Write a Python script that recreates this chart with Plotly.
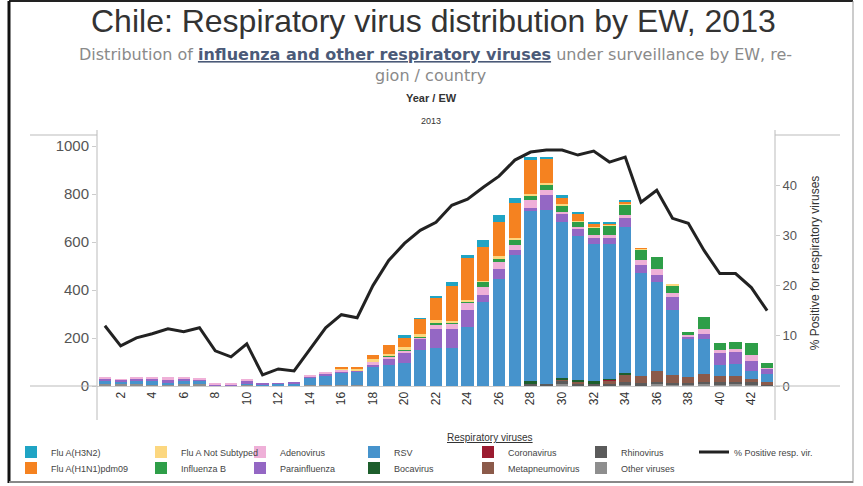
import plotly.graph_objects as go

# ---------------- data ----------------
weeks = list(range(1, 44))
tick_weeks = list(range(2, 43, 2))
tick_labels = [str(w) for w in tick_weeks]

other_viruses = [10, 10, 8, 6, 6, 8, 8, 3, 3, 6, 4, 4, 4, 6, 5, 5, 4, 0, 2, 0, 0, 0, 0, 0, 0, 0, 0, 0, 0,
                 10, 4, 3, 4, 5, 4, 8, 6, 5, 8, 8, 8, 7, 3]
rhinovirus = [0] * 27 + [10, 8, 13, 8, 6, 6, 10, 8, 10, 8, 6, 10, 8, 9, 8, 5]
metapneumovirus = [0] * 29 + [5, 4, 3, 14, 34, 28, 45, 32, 28, 32, 25, 25, 14, 8]
coronavirus = [0] * 32 + [2] + [0] * 10
bocavirus = [0] * 27 + [10, 0, 5, 10, 8, 4, 5, 0, 0, 0, 0, 0, 0, 0, 0, 0]
rsv = [12, 10, 16, 14, 8, 14, 14, 0, 0, 4, 3, 5, 8, 28, 40, 50, 56, 82, 84, 96, 150, 158, 158, 245, 350,
       445, 545, 708, 727, 650, 600, 570, 560, 610, 430, 370, 270, 160, 147, 45, 50, 35, 35]
parainfluenza = [8, 5, 8, 10, 12, 8, 6, 4, 3, 10, 3, 3, 4, 5, 5, 6, 3, 5, 30, 44, 48, 80, 80, 70, 28,
                 42, 22, 15, 60, 33, 28, 28, 26, 35, 35, 30, 55, 6, 20, 50, 48, 42, 20]
adenovirus = [6, 3, 4, 6, 10, 6, 6, 5, 4, 10, 0, 0, 0, 3, 8, 6, 2, 14, 8, 6, 6, 20, 22, 32, 35,
              28, 22, 30, 20, 10, 10, 12, 12, 14, 20, 26, 18, 8, 20, 15, 15, 25, 5]
influenza_b = [0] * 18 + [3, 6, 2, 3, 3, 4, 21, 16, 20, 22, 25, 25, 20, 30, 40, 45, 45, 48, 28, 12, 50,
                          28, 28, 48, 20]
flu_a_not_subtyped = [0] * 15 + [4, 6, 10, 6, 12, 10, 16, 6, 8, 5, 12, 6, 5, 5, 6, 5, 5, 4, 4, 3, 0, 4,
                                 0, 0, 0, 0, 0, 0]
flu_a_h1n1pdm09 = [0] * 15 + [8, 8, 18, 38, 34, 64, 90, 148, 175, 142, 140, 148, 140, 100, 25, 30, 8, 5,
                              5, 2, 0, 0, 0, 0, 0, 0, 0, 0]
flu_a_h3n2 = [0] * 19 + [14, 3, 4, 16, 12, 27, 29, 20, 14, 9, 14, 6, 10, 6, 8, 0, 0, 0, 0, 0, 0, 0, 0, 0]
pct_positive = [12, 8, 9.6, 10.4, 11.4, 10.8, 11.6, 7, 5.8, 8.4, 2.2, 3.4, 3, 7.4, 11.6, 14.2, 13.6, 20,
                25, 28.4, 31, 32.6, 36, 37.2, 39.6, 41.8, 45, 46.6, 47, 47, 46, 46.8, 44.6, 45.6, 36.6,
                39, 33.4, 32.4, 27, 22.4, 22.4, 19.6, 15]

y_ticks = [0, 200, 400, 600, 800, 1000]
y2_ticks = [0, 10, 20, 30, 40]

# stacking order: bottom -> top
series = [
    ("Other viruses", other_viruses, "#8e8e8e"),
    ("Rhinovirus", rhinovirus, "#5b5b5b"),
    ("Metapneumovirus", metapneumovirus, "#8b5a4a"),
    ("Coronavirus", coronavirus, "#9b1b30"),
    ("Bocavirus", bocavirus, "#1d5e2c"),
    ("RSV", rsv, "#4693cc"),
    ("Parainfluenza", parainfluenza, "#9467c4"),
    ("Adenovirus", adenovirus, "#efb0d8"),
    ("Influenza B", influenza_b, "#2e9e48"),
    ("Flu A Not Subtyped", flu_a_not_subtyped, "#fcd77f"),
    ("Flu A(H1N1)pdm09", flu_a_h1n1pdm09, "#f58220"),
    ("Flu A(H3N2)", flu_a_h3n2, "#20a4c4"),
]

# legend grid (column, row) as in the original
legend_slots = {
    "Flu A(H3N2)": (0, 0), "Flu A(H1N1)pdm09": (0, 1),
    "Flu A Not Subtyped": (1, 0), "Influenza B": (1, 1),
    "Adenovirus": (2, 0), "Parainfluenza": (2, 1),
    "RSV": (3, 0), "Bocavirus": (3, 1),
    "Coronavirus": (4, 0), "Metapneumovirus": (4, 1),
    "Rhinovirus": (5, 0), "Other viruses": (5, 1),
    "% Positive resp. vir.": (6, 0),
}

# ---------------- geometry (pixels) ----------------
W, H = 863, 486
PL, PR, PT, PB = 97, 775, 140, 386
pw, ph = PR - PL, PB - PT


def px(x):
    return (x - PL) / pw


def py(y):
    return (PB - y) / ph


col_px = [34, 164, 263, 377, 491, 604, 717]
row_px = [452, 468]

fig = go.Figure()
legend_layouts = {}
order = [s[0] for s in series] + ["% Positive resp. vir."]
legend_ids = {}
for i, name in enumerate(order):
    lid = "legend" if i == 0 else f"legend{i + 1}"
    legend_ids[name] = lid
    c, r = legend_slots[name]
    legend_layouts[lid] = dict(
        x=px(col_px[c] - 23), y=py(row_px[r]), xanchor="left", yanchor="middle",
        orientation="v", bgcolor="rgba(0,0,0,0)", borderwidth=0, visible=True,
        font=dict(family="Liberation Sans, Arial", size=9, color="#444"),
        itemwidth=30, tracegroupgap=0,
    )

for name, vals, color in series:
    fig.add_trace(go.Bar(
        x=weeks, y=vals, name=name, marker=dict(color=color, line=dict(width=0)),
        legend=legend_ids[name], showlegend=True,
    ))

fig.add_trace(go.Scatter(
    x=weeks, y=pct_positive, name="% Positive resp. vir.", mode="lines",
    line=dict(color="#222222", width=3), yaxis="y2",
    legend=legend_ids["% Positive resp. vir."], showlegend=True,
))

gray = "#bbbbbb"
shapes = [
    # axis ornaments
    dict(type="line", xref="paper", yref="paper", x0=0, x1=0, y0=py(420), y1=py(130),
         line=dict(color=gray, width=1)),
    dict(type="line", xref="paper", yref="paper", x0=1, x1=1, y0=py(420), y1=py(130),
         line=dict(color=gray, width=1)),
    dict(type="line", xref="paper", yref="paper", x0=px(30), x1=0, y0=py(135), y1=py(135),
         line=dict(color=gray, width=1)),
    dict(type="line", xref="paper", yref="paper", x0=1, x1=px(840), y0=py(135), y1=py(135),
         line=dict(color=gray, width=1)),
    dict(type="line", xref="paper", yref="paper", x0=px(30), x1=0, y0=0, y1=0,
         line=dict(color=gray, width=1)),
    dict(type="line", xref="paper", yref="paper", x0=1, x1=px(840), y0=0, y1=0,
         line=dict(color=gray, width=1)),
    # outer frame
    dict(type="line", xref="paper", yref="paper", x0=px(9), x1=px(853), y0=py(1), y1=py(1),
         line=dict(color="#222", width=2)),
    dict(type="line", xref="paper", yref="paper", x0=px(9), x1=px(9), y0=py(1), y1=py(483),
         line=dict(color="#111", width=3)),
    dict(type="line", xref="paper", yref="paper", x0=px(853), x1=px(853), y0=py(1), y1=py(483),
         line=dict(color="#999", width=1)),
    dict(type="line", xref="paper", yref="paper", x0=px(9), x1=px(853), y0=py(482), y1=py(482),
         line=dict(color="#888", width=2)),
]

annotations = [
    dict(text="Chile: Respiratory virus distribution by EW, 2013", x=px(433), y=py(21),
         font=dict(family="Liberation Sans, Arial", size=32, color="#333")),
    dict(text="Distribution of <span style='color:#4b5a78'><b><u>influenza and other respiratory "
              "viruses</u></b></span> under surveillance by EW, re-",
         x=px(435), y=py(54), font=dict(family="DejaVu Sans", size=16, color="#8a8a8a")),
    dict(text="gion / country", x=px(430), y=py(75),
         font=dict(family="DejaVu Sans", size=16, color="#8a8a8a")),
    dict(text="<b>Year / EW</b>", x=px(431), y=py(98),
         font=dict(family="Liberation Sans, Arial", size=11, color="#333")),
    dict(text="2013", x=px(431), y=py(121),
         font=dict(family="Liberation Sans, Arial", size=9, color="#333")),
    dict(text="<u>Respiratory viruses</u>", x=px(490), y=py(437),
         font=dict(family="Liberation Sans, Arial", size=10, color="#333")),
]
for a in annotations:
    a.update(xref="paper", yref="paper", showarrow=False, xanchor="center", yanchor="middle")

fig.update_layout(
    width=W, height=H, showlegend=True,
    margin=dict(l=PL, r=W - PR, t=PT, b=H - PB, autoexpand=False),
    paper_bgcolor="white", plot_bgcolor="white",
    barmode="stack", bargap=0.22,
    font=dict(family="Liberation Sans, Arial", color="#444"),
    xaxis=dict(range=[0.5, 43.5], tickmode="array", tickvals=tick_weeks, ticktext=tick_labels,
               tickangle=-90, tickfont=dict(size=12, color="#333"), showgrid=False,
               zeroline=False, showline=True, linecolor="#cccccc", ticks=""),
    yaxis=dict(range=[0, 1025], tickmode="array", tickvals=y_ticks,
               tickfont=dict(size=15, color="#555"), showgrid=False, zeroline=False,
               showline=False, ticks="outside", ticklen=4, tickcolor="#cccccc"),
    yaxis2=dict(range=[0, 49], overlaying="y", side="right", tickmode="array", tickvals=y2_ticks,
                tickfont=dict(size=13, color="#555"), showgrid=False, zeroline=False,
                showline=False, ticks="outside", ticklen=4, tickcolor="#cccccc",
                title=dict(text="% Positive for respiratory viruses",
                           font=dict(size=12, color="#333"), standoff=14)),
    shapes=shapes, annotations=annotations,
    **legend_layouts,
)

fig.write_html("out.html", config={"displayModeBar": False},
               post_script="document.body.style.margin='0';")
